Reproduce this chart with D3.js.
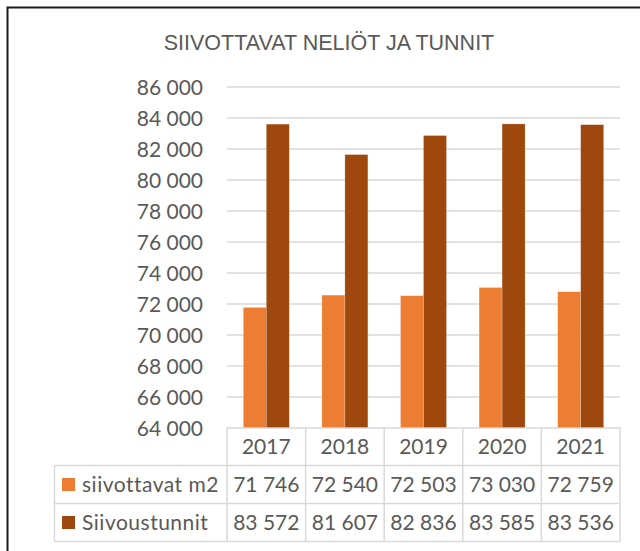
<!DOCTYPE html>
<html>
<head>
<meta charset="utf-8">
<script src="https://cdn.jsdelivr.net/npm/d3@7"></script>
<style>
body { margin: 0; background: #fff; }
svg { display: block; }
</style>
</head>
<body>
<svg id="chart" width="640" height="551"></svg>
<script>
const years = ["2017", "2018", "2019", "2020", "2021"];
const siivottavat = [71746, 72540, 72503, 73030, 72759];
const tunnit = [83572, 81607, 82836, 83585, 83536];
const seriesNames = ["siivottavat m2", "Siivoustunnit"];
const yTickValues = [64000, 66000, 68000, 70000, 72000, 74000, 76000, 78000, 80000, 82000, 84000, 86000];
const titleText = "SIIVOTTAVAT NELIÖT JA TUNNIT";

const colors = {
    "siivottavat m2": "#ED7D31",
    "Siivoustunnit": "#9E480E"
};
const textColor = "#595959";
const lineColor = "#d9d9d9";
const numFont = "Lato, 'Open Sans', sans-serif";

const seriesValues = { "siivottavat m2": siivottavat, "Siivoustunnit": tunnit };

const fmt = d3.formatLocale({ decimal: ",", thousands: " ", grouping: [3], currency: ["", " €"] }).format(",d");

const plotLeft = 227, plotRight = 620;
const tableLeft = 54.5;
const rowLines = [465.5, 503.5, 541.5];

const svg = d3.select("#chart");

// frame
svg.append("path")
    .attr("d", "M7.5,551V7.5H640")
    .attr("fill", "none")
    .attr("stroke", "#1a1a1a")
    .attr("stroke-width", 2);

// title
svg.append("text")
    .attr("x", 329)
    .attr("y", 49.5)
    .attr("text-anchor", "middle")
    .style("font-family", "'Liberation Sans', Arial, sans-serif")
    .style("font-size", "21.5px")
    .style("fill", textColor)
    .text(titleText);

const x0 = d3.scaleBand().domain(years).range([plotLeft, plotRight]);
const x1 = d3.scaleBand().domain(seriesNames).range([0, x0.bandwidth()])
    .paddingInner(0).paddingOuter(0.71);
const y = d3.scaleLinear().domain([64000, 86000]).range([427.5, 86.5]);

// gridlines and y labels
const yAxis = svg.append("g")
    .attr("transform", `translate(${plotLeft},0)`)
    .call(d3.axisLeft(y).tickValues(yTickValues).tickSize(-(plotRight - plotLeft))
        .tickPadding(24).tickFormat(fmt));
yAxis.select(".domain").remove();
yAxis.selectAll(".tick line").attr("stroke", lineColor).attr("stroke-width", 1.5);
yAxis.selectAll(".tick text")
    .style("font-family", numFont)
    .style("font-size", "21px")
    .style("fill", textColor)
    .attr("dy", "0.36em");

// bars
const barData = [];
years.forEach((yr, i) => {
    seriesNames.forEach(s => barData.push({ year: yr, series: s, value: seriesValues[s][i] }));
});

svg.append("g").selectAll("rect")
    .data(barData)
    .enter().append("rect")
    .attr("x", d => x0(d.year) + x1(d.series))
    .attr("y", d => y(d.value))
    .attr("width", x1.bandwidth())
    .attr("height", d => y(64000) - y(d.value))
    .attr("fill", d => colors[d.series])
    .attr("stroke", "rgba(255,255,255,0.35)")
    .attr("stroke-width", 0.6);

// data table
const table = svg.append("g");
const colEdges = years.map(d => x0(d)).concat([plotRight]);

table.selectAll(".hline")
    .data(rowLines)
    .enter().append("line")
    .attr("x1", tableLeft).attr("x2", plotRight)
    .attr("y1", d => d).attr("y2", d => d)
    .attr("stroke", lineColor).attr("stroke-width", 1.5);

table.selectAll(".vline")
    .data(colEdges)
    .enter().append("line")
    .attr("x1", d => d).attr("x2", d => d)
    .attr("y1", y(64000)).attr("y2", rowLines[2])
    .attr("stroke", lineColor).attr("stroke-width", 1.5);

table.append("line")
    .attr("x1", tableLeft).attr("x2", tableLeft)
    .attr("y1", rowLines[0]).attr("y2", rowLines[2])
    .attr("stroke", lineColor).attr("stroke-width", 1.5);

// year header
table.selectAll(".year")
    .data(years)
    .enter().append("text")
    .attr("x", d => x0(d) + x0.bandwidth() / 2)
    .attr("y", (y(64000) + rowLines[0]) / 2)
    .attr("dy", "0.36em")
    .attr("text-anchor", "middle")
    .style("font-family", numFont)
    .style("font-size", "21px")
    .style("fill", textColor)
    .text(d => d);

// series rows
seriesNames.forEach((s, r) => {
    const cy = (rowLines[r] + rowLines[r + 1]) / 2;
    table.append("rect")
        .attr("x", 62).attr("y", cy - 6.5)
        .attr("width", 13).attr("height", 13)
        .attr("fill", colors[s]);
    table.append("text")
        .attr("x", 82).attr("y", cy).attr("dy", "0.36em")
        .style("font-family", numFont)
        .style("font-size", "21px")
        .style("letter-spacing", "0.5px")
        .style("fill", textColor)
        .text(s);
    table.selectAll(".v" + r)
        .data(seriesValues[s])
        .enter().append("text")
        .attr("x", (d, i) => x0(years[i]) + x0.bandwidth() / 2)
        .attr("y", cy).attr("dy", "0.36em")
        .attr("text-anchor", "middle")
        .style("font-family", numFont)
        .style("font-size", "21px")
        .style("fill", textColor)
        .text(d => fmt(d));
});
</script>
</body>
</html>
